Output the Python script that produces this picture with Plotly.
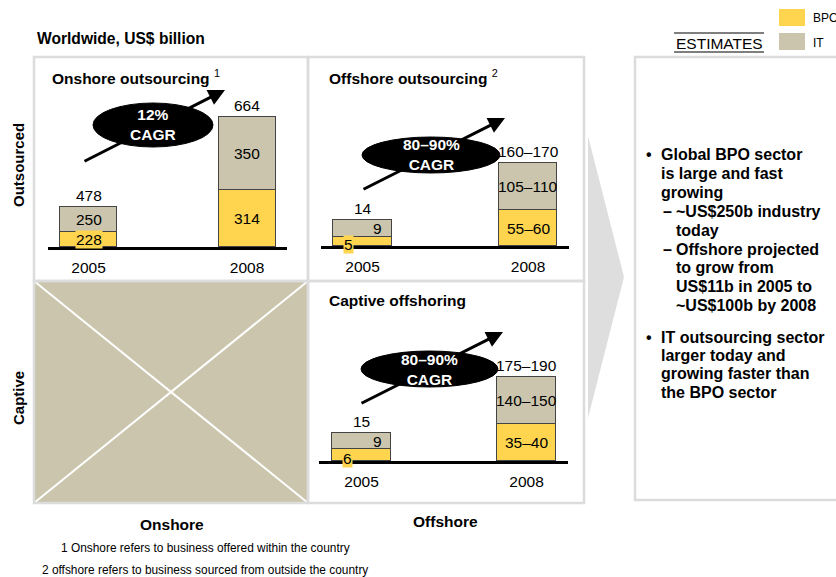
import plotly.graph_objects as go

# ---------------- data ----------------
years = ["2005", "2008"]

# Onshore outsourcing (US$ billion)
onshore_bpo_label = ["228", "314"]
onshore_it_label = ["250", "350"]
onshore_total_label = ["478", "664"]
# bar segment heights as drawn (schematic scale)
onshore_bpo_h = [15, 57]
onshore_it_h = [25, 73]

# Offshore outsourcing
offshore_bpo_label = ["5", "55–60"]
offshore_it_label = ["9", "105–110"]
offshore_total_label = ["14", "160–170"]
offshore_bpo_h = [9, 36]
offshore_it_h = [17, 47]

# Captive offshoring
captive_bpo_label = ["6", "35–40"]
captive_it_label = ["9", "140–150"]
captive_total_label = ["15", "175–190"]
captive_bpo_h = [12, 37]
captive_it_h = [16, 47]

cagr_labels = ["12%", "80–90%", "80–90%"]
panel_titles = ["<b>Onshore outsourcing</b> <sup>1</sup>",
                "<b>Offshore outsourcing</b> <sup>2</sup>",
                "<b>Captive offshoring</b>"]

bullet_lines = [
    ("bullet", "Global BPO sector"),
    ("cont", "is large and fast"),
    ("cont", "growing"),
    ("dash", "~US$250b industry"),
    ("dcont", "today"),
    ("dash", "Offshore projected"),
    ("dcont", "to grow from"),
    ("dcont", "US$11b in 2005 to"),
    ("dcont", "~US$100b by 2008"),
]
bullet_lines2 = [
    ("bullet", "IT outsourcing sector"),
    ("cont", "larger today and"),
    ("cont", "growing faster than"),
    ("cont", "the BPO sector"),
]

# ---------------- helpers ----------------
W, H = 836, 577
def X(px): return px / W
def Y(py): return 1 - py / H

FONT = "Arial, Liberation Sans, sans-serif"
YELLOW = "#FFD54F"
TAN = "#CAC5AC"
BORDER = "#DCDCDC"
CHEV = "#DEDEDE"

panels = [
    dict(bpo=onshore_bpo_h, it=onshore_it_h, bl=onshore_bpo_label, il=onshore_it_label,
         tl=onshore_total_label, x0=48, x1=287, c0=88.5, c1=247, bw=57, base=247,
         bshift=[(0, 0), (0, 0)], ishift=[(0, 0), (0, 0)],
         title_xy=(50, 77), ell=(93, 103, 213, 147), arrow=((83, 162), (225, 90))),
    dict(bpo=offshore_bpo_h, it=offshore_it_h, bl=offshore_bpo_label, il=offshore_it_label,
         tl=offshore_total_label, x0=321, x1=569, c0=362.5, c1=528, bw=58.5, base=246,
         bshift=[(-14, -3), (0, 0)], ishift=[(15, 0), (0, 0)],
         title_xy=(327, 77), ell=(362, 137, 500, 173), arrow=((362, 190), (505, 118))),
    dict(bpo=captive_bpo_h, it=captive_it_h, bl=captive_bpo_label, il=captive_it_label,
         tl=captive_total_label, x0=319, x1=568, c0=361.5, c1=526.5, bw=59, base=461,
         bshift=[(-14, -3), (0, 0)], ishift=[(16, 0), (0, 0)],
         title_xy=(327, 300), ell=(361, 351, 498, 387), arrow=((360, 404), (503, 332))),
]

fig = go.Figure()
layout = {}
annotations = []
shapes = []

# grid panels
shapes.append(dict(type="rect", xref="paper", yref="paper", x0=X(34), x1=X(308), y0=Y(503), y1=Y(281),
                   fillcolor=TAN, line=dict(width=0), layer="below"))
shapes.append(dict(type="line", xref="paper", yref="paper", x0=X(34), y0=Y(281), x1=X(308), y1=Y(503),
                   line=dict(color="white", width=2), layer="below"))
shapes.append(dict(type="line", xref="paper", yref="paper", x0=X(308), y0=Y(281), x1=X(34), y1=Y(503),
                   line=dict(color="white", width=2), layer="below"))
for (a, b, c, d) in [(34, 57, 308, 281), (308, 57, 584, 281), (34, 281, 308, 503), (308, 281, 584, 503)]:
    shapes.append(dict(type="rect", xref="paper", yref="paper", x0=X(a), x1=X(c), y0=Y(d), y1=Y(b),
                       line=dict(color=BORDER, width=2.5), layer="below"))
# right text box
shapes.append(dict(type="rect", xref="paper", yref="paper", x0=X(635), x1=X(845), y0=Y(500), y1=Y(57),
                   line=dict(color=BORDER, width=2.5), layer="below"))
# chevron
shapes.append(dict(type="path", xref="paper", yref="paper",
                   path=f"M{X(588)},{Y(136)} L{X(624)},{Y(277)} L{X(588)},{Y(418)} Z",
                   fillcolor=CHEV, line=dict(width=0), layer="below"))

for k, p in enumerate(panels):
    sfx = "" if k == 0 else str(k + 1)
    xa, ya = "x" + sfx, "y" + sfx
    unit = p["c1"] - p["c0"]
    xr = [-(p["c0"] - p["x0"]) / unit, 1 + (p["x1"] - p["c1"]) / unit]
    wdt = p["bw"] / unit
    fig.add_trace(go.Bar(x=years, y=p["bpo"], name="BPO", marker=dict(color=YELLOW, line=dict(color="#444", width=1)),
                         width=wdt, xaxis=xa, yaxis=ya, showlegend=False, hoverinfo="skip"))
    fig.add_trace(go.Bar(x=years, y=p["it"], name="IT", marker=dict(color=TAN, line=dict(color="#444", width=1)),
                         width=wdt, xaxis=xa, yaxis=ya, showlegend=False, hoverinfo="skip"))
    layout["xaxis" + sfx] = dict(domain=[X(p["x0"]), X(p["x1"])], range=xr, type="category", anchor=ya,
                                 showline=True, linecolor="black", linewidth=3, showgrid=False,
                                 zeroline=False, ticks="", tickfont=dict(size=15.5, color="black"),
                                 ticklabelstandoff=4, fixedrange=True)
    layout["yaxis" + sfx] = dict(domain=[Y(p["base"]), Y(p["base"] - 150)], range=[0, 150], anchor=xa,
                                 visible=False, fixedrange=True)
    for i, yr in enumerate(years):
        b, it = p["bpo"][i], p["it"][i]
        annotations.append(dict(x=i, y=b + it, xref=xa, yref=ya, text=p["tl"][i], showarrow=False,
                                xanchor="center", yanchor="bottom", yshift=1,
                                font=dict(size=15.5, color="black")))
        annotations.append(dict(x=i, y=b + it / 2, xref=xa, yref=ya, text=p["il"][i], showarrow=False,
                                xanchor="center", yanchor="middle",
                                xshift=p["ishift"][i][0], yshift=p["ishift"][i][1],
                                font=dict(size=15.5, color="black")))
        bpo_ann = dict(x=i, y=b / 2, xref=xa, yref=ya, text=p["bl"][i], showarrow=False,
                       xanchor="center", yanchor="middle",
                       xshift=p["bshift"][i][0], yshift=p["bshift"][i][1], borderpad=0,
                       font=dict(size=15.5, color="black"))
        if i == 0:
            bpo_ann["bgcolor"] = YELLOW
        annotations.append(bpo_ann)
    # title
    annotations.append(dict(x=X(p["title_xy"][0]), y=Y(p["title_xy"][1]), xref="paper", yref="paper",
                            text=panel_titles[k], showarrow=False, xanchor="left", yanchor="middle",
                            font=dict(size=15.5, color="black")))
    # CAGR ellipse + arrow
    e = p["ell"]
    shapes.append(dict(type="circle", xref="paper", yref="paper", x0=X(e[0]), x1=X(e[2]), y0=Y(e[3]), y1=Y(e[1]),
                       fillcolor="black", line=dict(color="black", width=1), layer="above"))
    (tx, ty), (hx, hy) = p["arrow"]
    annotations.append(dict(x=X(hx), y=Y(hy), xref="paper", yref="paper", ax=tx - hx, ay=ty - hy,
                            showarrow=True, arrowhead=2, arrowsize=1.1, arrowwidth=3, arrowcolor="black",
                            text="", standoff=0))
    annotations.append(dict(x=X((e[0] + e[2]) / 2), y=Y((e[1] + e[3]) / 2), xref="paper", yref="paper",
                            text=f"<b>{cagr_labels[k]}<br>CAGR</b>", showarrow=False,
                            xanchor="center", yanchor="middle",
                            font=dict(size=15.5, color="white")))

# general labels
def txt(x, y, s, size=15.5, xanchor="center", angle=0, color="black"):
    annotations.append(dict(x=X(x), y=Y(y), xref="paper", yref="paper", text=s, showarrow=False,
                            xanchor=xanchor, yanchor="middle", textangle=angle,
                            font=dict(size=size, color=color)))

txt(35, 39, "<b>Worldwide, US$ billion</b>", 15.6, "left")
txt(18, 165, "<b>Outsourced</b>", 15, angle=-90)
txt(18, 398, "<b>Captive</b>", 15, angle=-90)
txt(172, 524, "<b>Onshore</b>", 15.5)
txt(446, 521, "<b>Offshore</b>", 15.5)
txt(59, 548, "1 Onshore refers to business offered within the country", 11.9, "left")
txt(40, 570, "2 offshore refers to business sourced from outside the country", 11.9, "left")

# legend-like key
shapes.append(dict(type="rect", xref="paper", yref="paper", x0=X(779), x1=X(805), y0=Y(26), y1=Y(9),
                   fillcolor=YELLOW, line=dict(width=0)))
shapes.append(dict(type="rect", xref="paper", yref="paper", x0=X(779), x1=X(805), y0=Y(50), y1=Y(33),
                   fillcolor=TAN, line=dict(width=0)))
txt(811, 18, "BPO", 12, "left")
txt(811, 43, "IT", 12, "left")
txt(719, 43, "ESTIMATES", 15.5)
for yy in (33, 52):
    shapes.append(dict(type="line", xref="paper", yref="paper", x0=X(674), x1=X(764), y0=Y(yy), y1=Y(yy),
                       line=dict(color="black", width=1.2)))

# right box bullet text
def put_lines(lines, y0, step):
    for i, (kind, s) in enumerate(lines):
        yy = y0 + i * step
        if kind == "bullet":
            txt(649, yy, "<b>•</b>", 16)
            txt(659, yy, f"<b>{s}</b>", 16, "left")
        elif kind == "cont":
            txt(659, yy, f"<b>{s}</b>", 16, "left")
        elif kind == "dash":
            txt(661, yy, "<b>–</b>", 16, "left")
            txt(674, yy, f"<b>{s}</b>", 16, "left")
        else:
            txt(674, yy, f"<b>{s}</b>", 16, "left")

put_lines(bullet_lines, 155, 18.8)
put_lines(bullet_lines2, 337, 18.4)

layout.update(dict(width=W, height=H, margin=dict(l=0, r=0, t=0, b=0), barmode="stack", bargap=0,
                   paper_bgcolor="white", plot_bgcolor="rgba(0,0,0,0)",
                   font=dict(family=FONT, color="black"), showlegend=False,
                   shapes=shapes, annotations=annotations))
fig.update_layout(**layout)
fig.write_html("out.html", config={"displayModeBar": False},
               post_script="document.body.style.margin='0';document.body.style.padding='0';")
